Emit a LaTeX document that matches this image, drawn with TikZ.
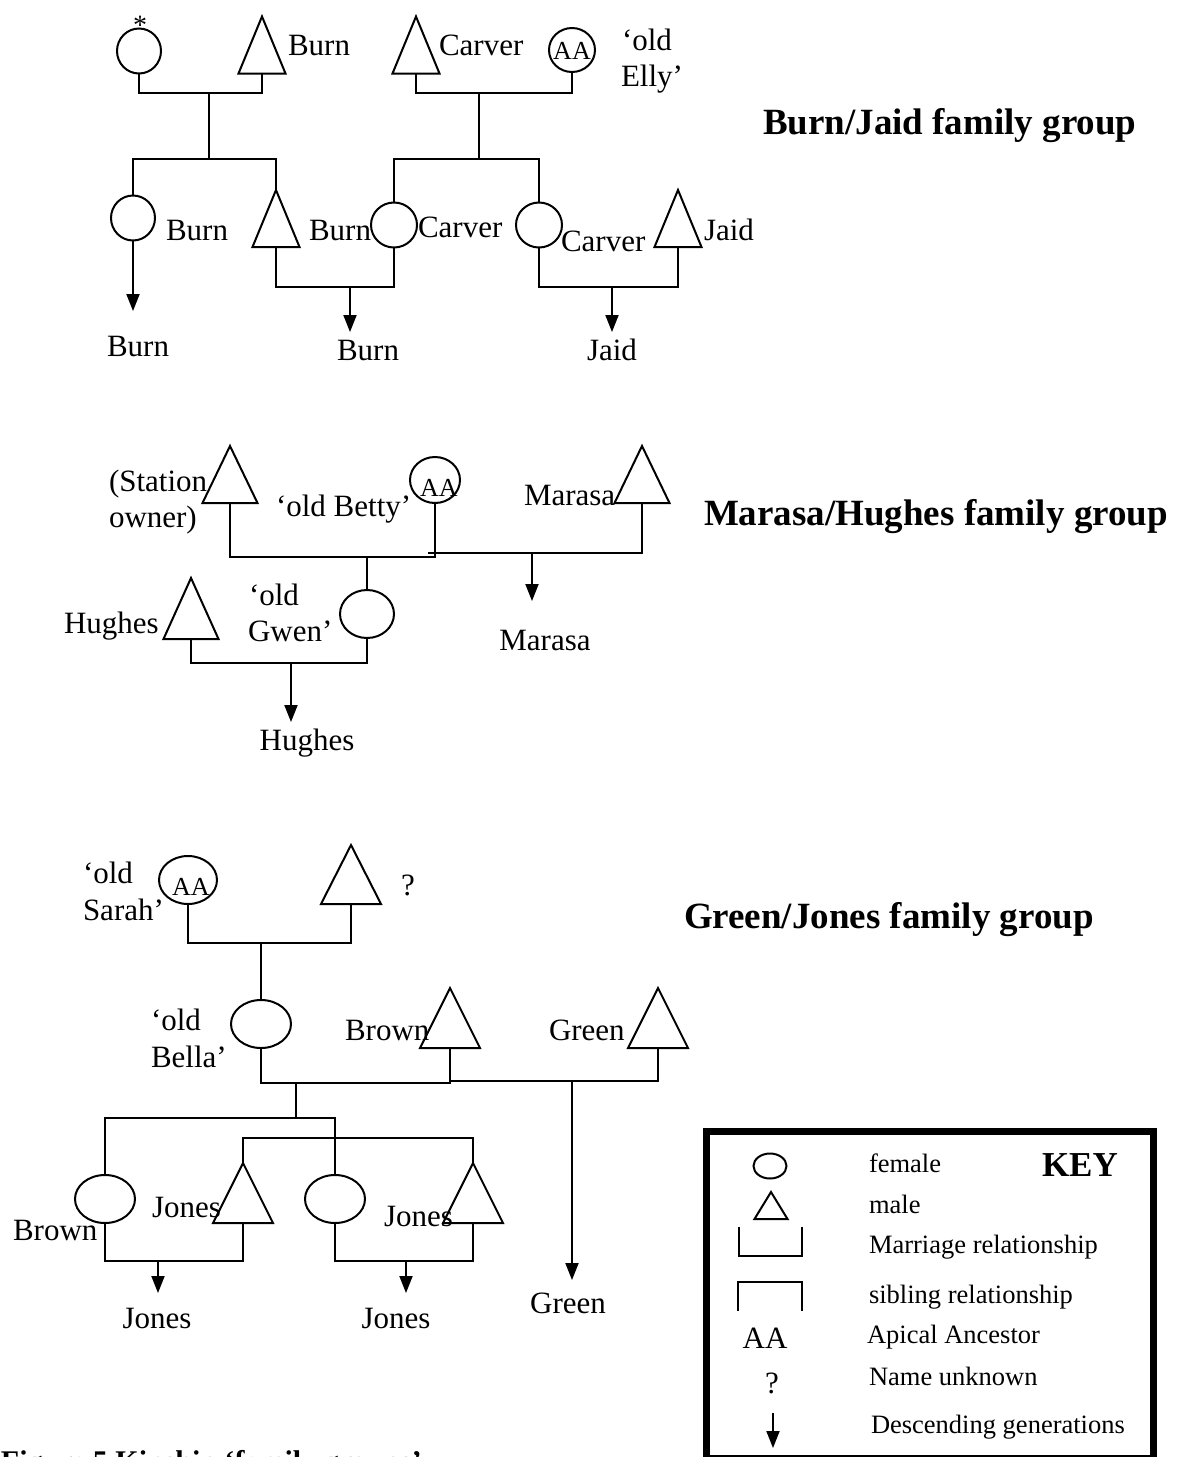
\documentclass[tikz,border=0pt]{standalone}
\usepackage{fontspec}
\setmainfont{Liberation Serif}
\usetikzlibrary{shapes.geometric,arrows.meta}

\newcommand\lblfont{\fontsize{31}{34}\selectfont}
\newcommand\aafont{\fontsize{26}{28}\selectfont}
\newcommand\keytextfont{\fontsize{26.5}{30}\selectfont}
\newcommand\grouptitlefont{\fontsize{37}{40}\selectfont\bfseries}
\newcommand\keytitlefont{\fontsize{35}{38}\selectfont\bfseries}
\newcommand\captionfont{\fontsize{30}{33}\selectfont\bfseries}

\begin{document}
\begin{tikzpicture}[x=1pt,y=-1pt,line width=2pt,
  female/.style 2 args={ellipse,draw,inner sep=0pt,outer sep=0pt,minimum width=#1,minimum height=#2},
  male/.style 2 args={rectangle,inner sep=0pt,outer sep=0pt,minimum width=#1,minimum height=#2},
  lbl/.style={inner sep=0pt,font=\lblfont},
  aa/.style={inner sep=0pt,font=\aafont},
  keytxt/.style={inner sep=0pt,font=\keytextfont,anchor=base west},
  grouptitle/.style={inner sep=0pt,font=\grouptitlefont,anchor=base west},
  desc/.style={-{Triangle[width=13pt,length=17pt]}}]
\useasboundingbox (0,0) rectangle (1183,1457);

% ---------------- Burn/Jaid family group ----------------
\node[grouptitle] (g1) at (762,134) {Burn/Jaid family group};

\node[female={44pt}{45pt}] (c1) at (139,51) {};
\node[inner sep=0pt,anchor=base,font=\fontsize{28}{30}\selectfont] (ast) at (140,34) {*};
\node[male={47pt}{57pt}] (t1) at (262,45) {};
\node[lbl,anchor=base west] (l1) at (287,55) {Burn};
\node[male={47pt}{57pt}] (t2) at (416,45) {};
\node[lbl,anchor=base west] (l2) at (438,55) {Carver};
\node[female={46pt}{44pt}] (c2) at (572,50) {};
\node[aa] (aa1) at (572,51) {AA};
\node[lbl,anchor=base west] (l3a) at (621,50) {‘old};
\node[lbl,anchor=base west] (l3b) at (620,86) {Elly’};

\node[female={44pt}{45pt}] (c3) at (133,218) {};
\node[lbl,anchor=base west] (l4) at (165,240) {Burn};
\node[lbl,anchor=base] (l5) at (138,356) {Burn};
\node[male={47pt}{57pt}] (t3) at (276,218.5) {};
\node[lbl,anchor=base west] (l6) at (308,240) {Burn};
\node[female={46pt}{45pt}] (c4) at (394,225) {};
\node[lbl,anchor=base west] (l7) at (417,237) {Carver};
\node[female={46pt}{45pt}] (c5) at (539,225) {};
\node[lbl,anchor=base west] (l8) at (560,251) {Carver};
\node[male={47pt}{57pt}] (t4) at (678,218.5) {};
\node[lbl,anchor=base west] (l9) at (703,240) {Jaid};
\node[lbl,anchor=base] (l10) at (368,360) {Burn};
\node[lbl,anchor=base] (l11) at (612,360) {Jaid};

\coordinate (j1) at (209,93);
\coordinate (s1) at (209,159);
\coordinate (j2) at (479,93);
\coordinate (s2) at (479,159);
\coordinate (a1) at (133,311);
\coordinate (j3) at (350,287);
\coordinate (a2) at (350,332);
\coordinate (j4) at (612,287);
\coordinate (a3) at (612,332);

\draw (c1.south) |- (j1) -| (t1.south);
\draw (j1) -- (s1);
\draw (c3.north) |- (s1) -| (t3.north);
\draw (t2.south) |- (j2) -| (c2.south);
\draw (j2) -- (s2);
\draw (c4.north) |- (s2) -| (c5.north);
\draw[desc] (c3.south) -- (a1);
\draw (t3.south) |- (j3) -| (c4.south);
\draw[desc] (j3) -- (a2);
\draw (c5.south) |- (j4) -| (t4.south);
\draw[desc] (j4) -- (a3);

% ---------------- Marasa/Hughes family group ----------------
\node[grouptitle] (g2) at (703,525) {Marasa/Hughes family group};

\node[male={55pt}{57pt}] (t5) at (230,474.5) {};
\node[lbl,anchor=base west] (l12a) at (108,491) {(Station};
\node[lbl,anchor=base west] (l12b) at (108,527) {owner)};
\node[female={50pt}{46pt}] (c6) at (435,480) {};
\node[aa] (aa2) at (439,488) {AA};
\node[lbl,anchor=base west] (l13) at (275,516) {‘old Betty’};
\node[male={55pt}{57pt}] (t6) at (642,474.5) {};
\node[lbl,anchor=base west] (l14) at (523,505) {Marasa};
\node[female={54pt}{48pt}] (c7) at (367,614) {};
\node[lbl,anchor=base west] (l15a) at (248,605) {‘old};
\node[lbl,anchor=base west] (l15b) at (247,641) {Gwen’};
\node[male={55pt}{61pt}] (t7) at (191,608.5) {};
\node[lbl,anchor=base west] (l16) at (63,633) {Hughes};
\node[lbl,anchor=base] (l17) at (307,750) {Hughes};
\node[lbl,anchor=base] (l18) at (545,650) {Marasa};

\coordinate (j5) at (367,557);
\coordinate (k6) at (428,553);
\coordinate (j6) at (532,553);
\coordinate (a4) at (532,601);
\coordinate (j7) at (291,663);
\coordinate (a5) at (291,722);

\draw (t5.south) |- (j5) -| (c6.south);
\draw (k6) -- (j6) -| (t6.south);
\draw[desc] (j6) -- (a4);
\draw (j5) -- (c7.north);
\draw (t7.south) |- (j7) -| (c7.south);
\draw[desc] (j7) -- (a5);

% ---------------- Green/Jones family group ----------------
\node[grouptitle] (g3) at (683,928) {Green/Jones family group};

\node[female={58pt}{48pt}] (c8) at (188,880) {};
\node[aa] (aa3) at (191,887) {AA};
\node[lbl,anchor=base west] (l19a) at (82,883) {‘old};
\node[lbl,anchor=base west] (l19b) at (82,920) {Sarah’};
\node[male={60pt}{59pt}] (t8) at (351,874.5) {};
\node[lbl,anchor=base west] (l20) at (400,895) {?};
\node[female={60pt}{48pt}] (c9) at (261,1024) {};
\node[lbl,anchor=base west] (l21a) at (150,1030) {‘old};
\node[lbl,anchor=base west] (l21b) at (150,1067) {Bella’};
\node[male={60pt}{60pt}] (t9) at (450,1018) {};
\node[lbl,anchor=base west] (l22) at (344,1040) {Brown};
\node[male={60pt}{60pt}] (t10) at (658,1018) {};
\node[lbl,anchor=base west] (l23) at (548,1040) {Green};
\node[lbl,anchor=base] (l24) at (568,1313) {Green};

\node[female={60pt}{48pt}] (c10) at (105,1199) {};
\node[lbl,anchor=base west] (l25) at (12,1240) {Brown};
\node[male={60pt}{60pt}] (t11) at (243,1193) {};
\node[lbl,anchor=base west] (l26) at (151,1217) {Jones};
\node[female={60pt}{48pt}] (c11) at (335,1199) {};
\node[male={60pt}{60pt}] (t12) at (473,1193) {};
\node[lbl,anchor=base west] (l27) at (383,1226) {Jones};
\node[lbl,anchor=base] (l28) at (157,1328) {Jones};
\node[lbl,anchor=base] (l29) at (396,1328) {Jones};

\coordinate (j8) at (261,943);
\coordinate (j9) at (296,1083);
\coordinate (k10) at (450,1081);
\coordinate (j10) at (572,1081);
\coordinate (a6) at (572,1280);
\coordinate (s9) at (296,1118);
\coordinate (s10) at (358,1138);
\coordinate (j11) at (158,1261);
\coordinate (a7) at (158,1293);
\coordinate (j12) at (406,1261);
\coordinate (a8) at (406,1293);

\draw (c8.south) |- (j8) -| (t8.south);
\draw (j8) -- (c9.north);
\draw (c9.south) |- (j9) -| (t9.south);
\draw (k10) -- (j10) -| (t10.south);
\draw[desc] (j10) -- (a6);
\draw (j9) -- (s9);
\draw (c10.north) |- (s9) -| (c11.north);
\draw (t11.north) |- (s10) -| (t12.north);
\draw (c10.south) |- (j11) -| (t11.south);
\draw[desc] (j11) -- (a7);
\draw (c11.south) |- (j12) -| (t12.south);
\draw[desc] (j12) -- (a8);

% male symbols: triangles inside their boxes
\foreach \t in {t1,t2,t3,t4,t5,t6,t7,t8,t9,t10,t11,t12}
  \draw (\t.south west) -- (\t.north) -- (\t.south east) -- cycle;

% ---------------- Key ----------------
\node[draw,line width=7pt,inner sep=0pt,anchor=north west,
      minimum width=447pt,minimum height=327pt] (key) at (703,1128) {};
\node[female={33pt}{25pt}] (kc) at (770,1166) {};
\node[keytxt] (kl1) at (868,1172) {female};
\node[inner sep=0pt,font=\keytitlefont,anchor=base west] (kt) at (1041,1176) {KEY};
\node[male={33pt}{27pt}] (ktri) at (771,1205.5) {};
\draw (ktri.south west) -- (ktri.north) -- (ktri.south east) -- cycle;
\node[keytxt] (kl2) at (868,1213) {male};
\coordinate (kma) at (739,1227);
\coordinate (kmb) at (739,1256);
\coordinate (kmc) at (802,1256);
\coordinate (kmd) at (802,1227);
\draw (kma) -- (kmb) -- (kmc) -- (kmd);
\node[keytxt] (kl3) at (868,1253) {Marriage relationship};
\coordinate (ksa) at (738,1311);
\coordinate (ksb) at (738,1282);
\coordinate (ksc) at (802,1282);
\coordinate (ksd) at (802,1311);
\draw (ksa) -- (ksb) -- (ksc) -- (ksd);
\node[keytxt] (kl4) at (868,1303) {sibling relationship};
\node[lbl,anchor=base] (kaa) at (765,1348) {AA};
\node[keytxt] (kl5) at (866,1343) {Apical Ancestor};
\node[lbl,anchor=base] (kq) at (772,1393) {?};
\node[keytxt] (kl6) at (868,1385) {Name unknown};
\coordinate (kar1) at (773,1413);
\coordinate (kar2) at (773,1448);
\draw[desc] (kar1) -- (kar2);
\node[keytxt] (kl7) at (870,1433) {Descending generations};

% ---------------- caption (runs off the lower edge of the page) ----------------
\node[inner sep=0pt,font=\captionfont,anchor=base west] (cap) at (0,1471) {Figure 5 Kinship ‘family groups’};
\end{tikzpicture}
\end{document}
